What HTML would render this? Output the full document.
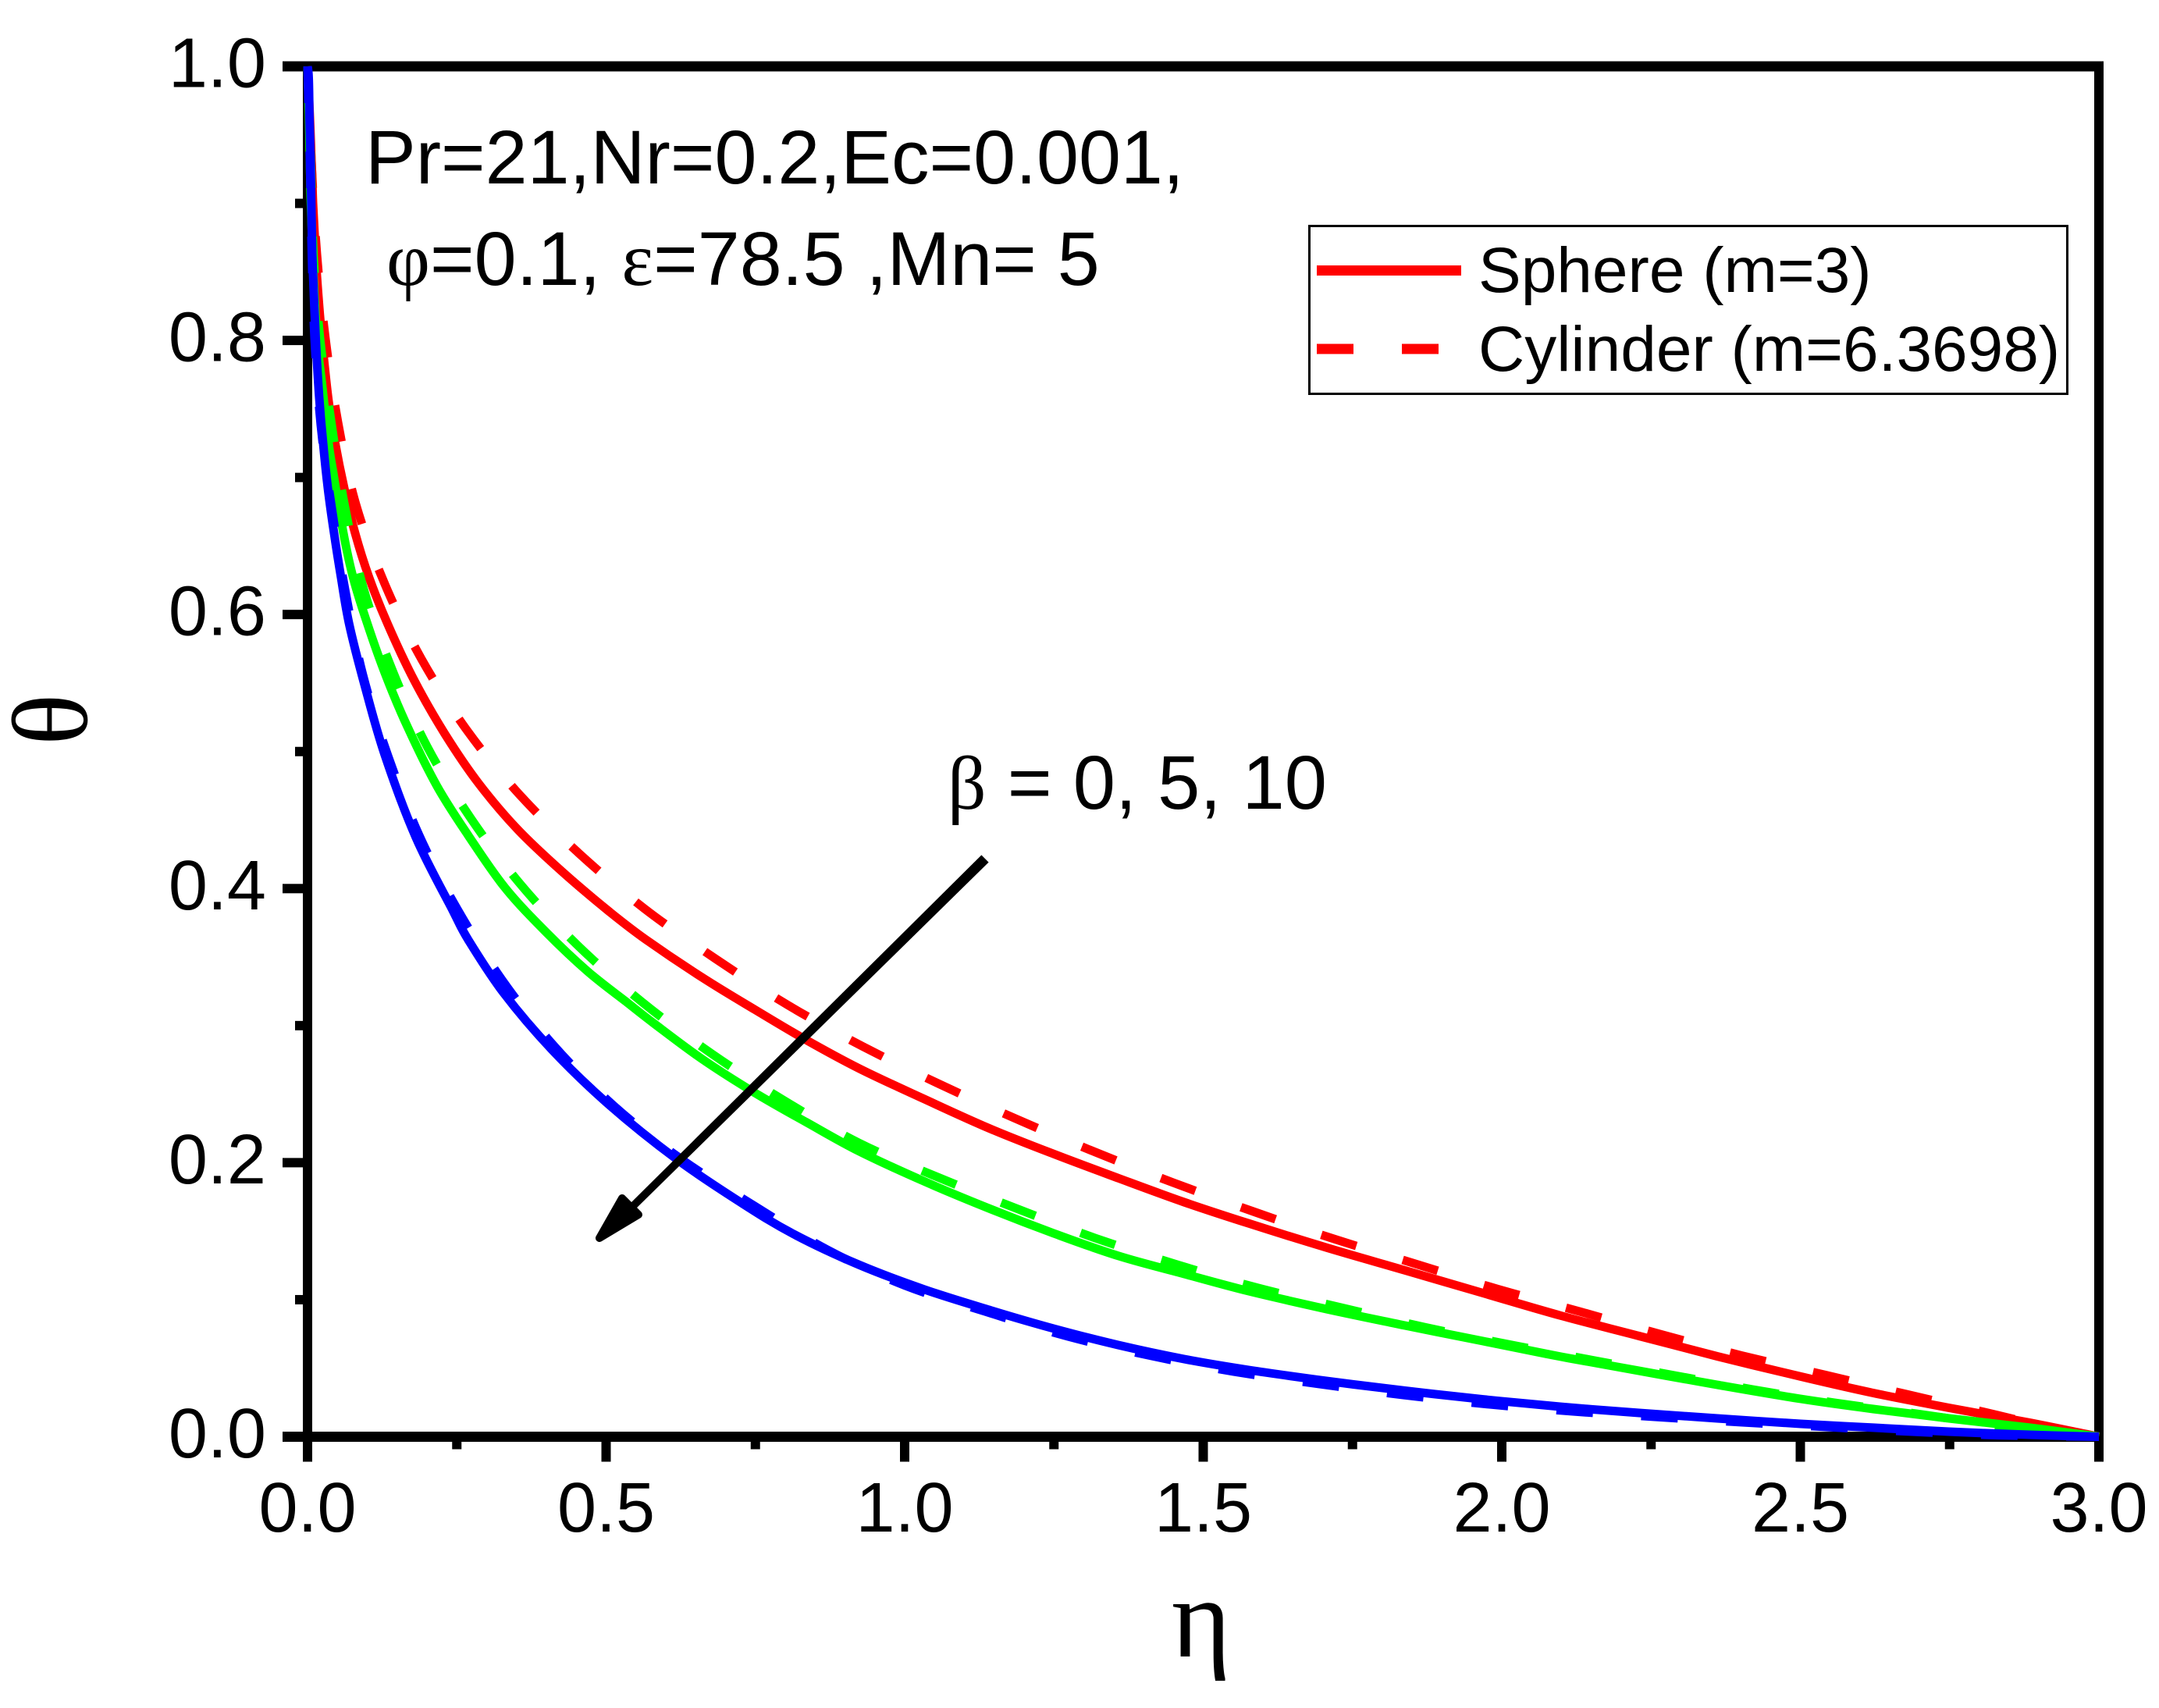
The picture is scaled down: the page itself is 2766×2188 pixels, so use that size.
<!DOCTYPE html>
<html lang="en">
<head>
<meta charset="utf-8">
<title>Temperature profile chart</title>
<style>
html,body{margin:0;padding:0;background:#fff;}
svg{display:block;}
text{font-family:"Liberation Sans",sans-serif;fill:#000;}
.serif{font-family:"Liberation Serif",serif;}
</style>
</head>
<body>
<svg id="chart" xmlns="http://www.w3.org/2000/svg" width="2766" height="2188" viewBox="0 0 2766 2188">
  <rect x="0" y="0" width="2766" height="2188" fill="#fff"/>
  <g id="axes"></g>
  <g id="curves"></g>

  <g>
    <path d="M1257.4 1095.4 L1266.6 1104.6 L815.5 1547.5 L808.5 1540.5 Z" fill="#000"/>
    <path d="M768 1586 L797 1535 L818 1556 Z" fill="#000" stroke="#000" stroke-width="10" stroke-linejoin="round"/>
  </g>

  <text x="468" y="235" font-size="97">Pr=21,Nr=0.2,Ec=0.001,</text>
  <text x="495" y="365" font-size="97"><tspan class="serif">φ</tspan>=0.1, <tspan class="serif">ε</tspan>=78.5 ,Mn= 5</text>
  <text x="1214" y="1036" font-size="97.5"><tspan class="serif">β</tspan> = 0, 5, 10</text>

  <g>
    <rect x="1677.5" y="289.5" width="971" height="215" fill="none" stroke="#000" stroke-width="3"/>
    <line x1="1687" y1="346.5" x2="1872" y2="346.5" stroke="#f00" stroke-width="13"/>
    <text x="1894" y="374" font-size="82">Sphere (m=3)</text>
    <line x1="1687" y1="447" x2="1843" y2="447" stroke="#f00" stroke-width="13" stroke-dasharray="47 62"/>
    <text x="1894" y="475" font-size="82">Cylinder (m=6.3698)</text>
  </g>

  <text class="serif" x="1539" y="2122" font-size="146" text-anchor="middle">η</text>
  <text class="serif" transform="translate(111 922) rotate(-90)" x="0" y="0" font-size="138" text-anchor="middle">θ</text>
</svg>

<script>
const xMajorTicks = [0, 0.5, 1, 1.5, 2, 2.5, 3];
const xTickLabels = ['0.0', '0.5', '1.0', '1.5', '2.0', '2.5', '3.0'];
const xMinorTicks = [0.25, 0.75, 1.25, 1.75, 2.25, 2.75];
const yMajorTicks = [0, 0.2, 0.4, 0.6, 0.8, 1];
const yTickLabels = ['0.0', '0.2', '0.4', '0.6', '0.8', '1.0'];
const yMinorTicks = [0.1, 0.3, 0.5, 0.7, 0.9];

const etaSphereBeta0 = [0, .0046, .0092, .0144, .0203, .0275, .0353, .0464, .0614, .0797, .1033, .1346, .1791, .2301, .2863, .3516, .4261, .5046, .5660, .6614, .7490, .8353, .9229, 1.0314, 1.1412, 1.2497, 1.3582, 1.4680, 1.5765, 1.7072, 1.8379, 1.9686, 2.0993, 2.2301, 2.3608, 2.5007, 2.6222, 2.7490, 2.8837, 3];
const thetaSphereBeta0 = [1, .9556, .9003, .8558, .8205, .7863, .7556, .7248, .6923, .6593, .6268, .5926, .5516, .5128, .4769, .4433, .4125, .3835, .3630, .3350, .3117, .2895, .2689, .2467, .2251, .2063, .1886, .1712, .1556, .1379, .1214, .1048, .0883, .0735, .0587, .0439, .0319, .0211, .0103, 0];

const etaCylinderBeta0 = [0, .0072, .0157, .0301, .0510, .0810, .1294, .1908, .2667, .3542, .4549, .5647, .6837, .8039, .9294, 1.0575, 1.1869, 1.3176, 1.4510, 1.5895, 1.7203, 1.8575, 1.9935, 2.1320, 2.2641, 2.4013, 2.5425, 2.6797, 2.8170, 2.9333, 3];
const thetaCylinderBeta0 = [1, .9248, .8627, .8011, .7402, .6803, .6222, .5675, .5157, .4689, .4256, .3852, .3487, .3151, .2849, .2575, .2319, .2080, .1852, .1635, .1442, .1259, .1077, .0912, .0750, .0593, .0450, .0308, .0171, .0051, 0];

const etaSphereBeta5 = [0, .0026, .0052, .0092, .0131, .0183, .0242, .0353, .0431, .0601, .0765, .0993, .1320, .1686, .2170, .2693, .3307, .4000, .4693, .5333, .5804, .6614, .7490, .8353, .9229, 1.0314, 1.1412, 1.2497, 1.3582, 1.4680, 1.5765, 1.7072, 1.8379, 1.9686, 2.0993, 2.2301, 2.3608, 2.5007, 2.6222, 2.7490, 2.8837, 3];
const thetaSphereBeta5 = [1, .9630, .9059, .8558, .8205, .7903, .7685, .7248, .7032, .6593, .6268, .5944, .5545, .5169, .4746, .4387, .4006, .3680, .3395, .3175, .3015, .2754, .2510, .2295, .2085, .1866, .1666, .1484, .1319, .1188, .1062, .0931, .0812, .0698, .0584, .0481, .0379, .0276, .0202, .0134, .0066, 0];

const etaCylinderBeta5 = [0, .0052, .0100, .0209, .0405, .0627, .0941, .1412, .2000, .2732, .3569, .4523, .5608, .6771, .7987, .9229, 1.0523, 1.1869, 1.3190, 1.4562, 1.5922, 1.7307, 1.8706, 2.0105, 2.1490, 2.2824, 2.4196, 2.5569, 2.6941, 2.8314, 2.9359, 3];
const thetaCylinderBeta5 = [1, .9345, .8633, .8013, .7381, .6783, .6184, .5603, .5039, .4514, .4030, .3586, .3170, .2794, .2452, .2145, .1900, .1666, .1450, .1256, .1085, .0943, .0800, .0675, .0561, .0453, .0345, .0248, .0168, .0083, .0031, 0];

const etaSphereBeta10 = [0, .0020, .0033, .0052, .0065, .0085, .0118, .0150, .0196, .0261, .0340, .0444, .0562, .0699, .0954, .1294, .1817, .2431, .2693, .3281, .4092, .5046, .6183, .7268, .8144, .9229, 1.0314, 1.1412, 1.2497, 1.3582, 1.4680, 1.5765, 1.7072, 1.8379, 1.9686, 2.0993, 2.2301, 2.3608, 2.5007, 2.6222, 2.7490, 2.8837, 3];
const thetaSphereBeta10 = [1, .9915, .9630, .9288, .8946, .8558, .8205, .7903, .7579, .7248, .6923, .6593, .6268, .5926, .5487, .4974, .4370, .3841, .3625, .3240, .2825, .2424, .2025, .1706, .1478, .1256, .1077, .0926, .0789, .0669, .0567, .0487, .0407, .0336, .0273, .0219, .0174, .0134, .0094, .0066, .0037, .0014, 0];

const etaCylinderBeta10 = [0, .0039, .0072, .0118, .0222, .0392, .0627, .0928, .1346, .1869, .2497, .3255, .4131, .5137, .6261, .7490, .8706, 1.0013, 1.1346, 1.2732, 1.4131, 1.5503, 1.6941, 1.8353, 1.9778, 2.1190, 2.2562, 2.4000, 2.5438, 2.6876, 2.8314, 3];
const thetaCylinderBeta10 = [1, .9345, .8633, .8013, .7381, .6817, .6184, .5558, .4970, .4389, .3859, .3335, .2851, .2412, .2025, .1683, .1364, .1102, .0914, .0732, .0590, .0476, .0385, .0305, .0237, .0185, .0145, .0106, .0071, .0037, .0011, 0];

const SVG_NS = 'http://www.w3.org/2000/svg';
const X_ORIGIN = 394, X_PER_UNIT = 765, Y_ORIGIN = 1840.5, Y_PER_UNIT = 1755.5;
function xScale(v) { return X_ORIGIN + v * X_PER_UNIT; }
function yScale(v) { return Y_ORIGIN - v * Y_PER_UNIT; }

const axesGroup = document.getElementById('axes');
const curvesGroup = document.getElementById('curves');

function addRect(name, x, y, w, h) {
  const el = document.createElementNS(SVG_NS, 'rect');
  el.setAttribute('x', x);
  el.setAttribute('y', y);
  el.setAttribute('width', w);
  el.setAttribute('height', h);
  el.setAttribute('fill', '#000');
  
  
  axesGroup.appendChild(el);
}

function addLabel(name, text, x, y, anchor) {
  const el = document.createElementNS(SVG_NS, 'text');
  el.setAttribute('x', x);
  el.setAttribute('y', y);
  el.setAttribute('font-size', '90');
  el.setAttribute('text-anchor', anchor);
  el.textContent = text;
  
  
  axesGroup.appendChild(el);
}

function smoothPath(etas, thetas) {
  const p = etas.map((e, i) => [xScale(e), yScale(thetas[i])]);
  let d = 'M' + p[0][0].toFixed(1) + ' ' + p[0][1].toFixed(1);
  for (let i = 0; i < p.length - 1; i++) {
    const a = p[Math.max(i - 1, 0)], b = p[i], c = p[i + 1], e = p[Math.min(i + 2, p.length - 1)];
    const c1x = b[0] + (c[0] - a[0]) / 6, c1y = b[1] + (c[1] - a[1]) / 6;
    const c2x = c[0] - (e[0] - b[0]) / 6, c2y = c[1] - (e[1] - b[1]) / 6;
    d += 'C' + c1x.toFixed(1) + ' ' + c1y.toFixed(1) + ' ' + c2x.toFixed(1) + ' ' + c2y.toFixed(1) + ' ' + c[0].toFixed(1) + ' ' + c[1].toFixed(1);
  }
  return d;
}

function drawCurve(name, etas, thetas, color, dashed) {
  const el = document.createElementNS(SVG_NS, 'path');
  el.setAttribute('d', smoothPath(etas, thetas));
  el.setAttribute('fill', 'none');
  el.setAttribute('stroke', color);
  el.setAttribute('stroke-width', '11');
  el.setAttribute('stroke-linejoin', 'round');
  if (dashed) el.setAttribute('stroke-dasharray', '47 62');
  
  
  curvesGroup.appendChild(el);
}

/* spines */
addRect('top-spine', 362, yScale(1) - 6.5, xScale(3) - 362 + 6, 13);
addRect('bottom-spine', 362, yScale(0) - 6.5, xScale(3) - 362 + 6, 13);
addRect('left-spine', xScale(0) - 6, yScale(1), 12, yScale(0) - yScale(1));
addRect('right-spine', xScale(3) - 6, yScale(1), 12, yScale(0) - yScale(1));

/* x ticks */
xMajorTicks.forEach((v, i) => {
  addRect('x-major-tick', xScale(v) - 6, yScale(0), 12, 32);
  addLabel('x-tick-label', xTickLabels[i], xScale(v), 1962, 'middle');
});
xMinorTicks.forEach((v) => {
  addRect('x-minor-tick', xScale(v) - 6, yScale(0), 12, 16);
});

/* y ticks */
yMajorTicks.forEach((v, i) => {
  if (v > 0 && v < 1) addRect('y-major-tick', 362, yScale(v) - 6, X_ORIGIN - 362, 12);
  addLabel('y-tick-label', yTickLabels[i], 341, yScale(v) + 26.5, 'end');
});
yMinorTicks.forEach((v) => {
  addRect('y-minor-tick', 378, yScale(v) - 6, X_ORIGIN - 378, 12);
});

/* series */
drawCurve('sphere-beta-0-line', etaSphereBeta0, thetaSphereBeta0, '#ff0000', false);
drawCurve('cylinder-beta-0-line', etaCylinderBeta0, thetaCylinderBeta0, '#ff0000', true);
drawCurve('sphere-beta-5-line', etaSphereBeta5, thetaSphereBeta5, '#00ff00', false);
drawCurve('cylinder-beta-5-line', etaCylinderBeta5, thetaCylinderBeta5, '#00ff00', true);
drawCurve('sphere-beta-10-line', etaSphereBeta10, thetaSphereBeta10, '#0000ff', false);
drawCurve('cylinder-beta-10-line', etaCylinderBeta10, thetaCylinderBeta10, '#0000ff', true);
</script>
</body>
</html>
